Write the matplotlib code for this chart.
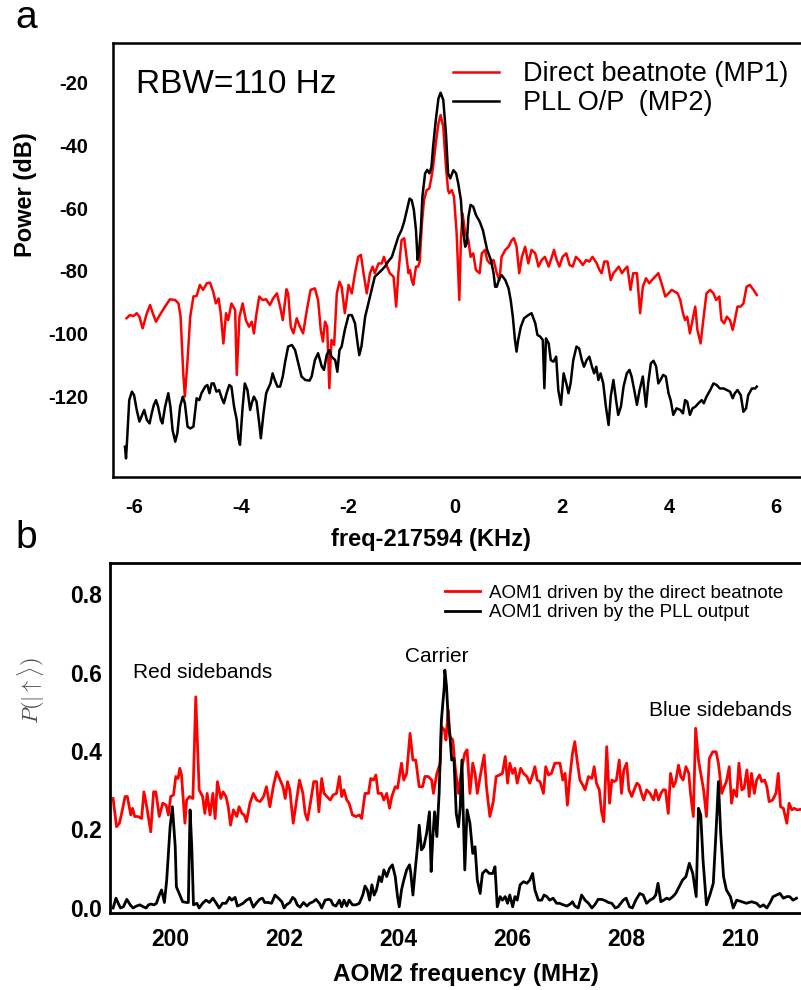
"""Beatnote spectra (a) and AOM2 frequency scan (b)."""

import matplotlib

matplotlib.use("Agg")
import matplotlib.pyplot as plt

plt.rcParams["font.family"] = ["Liberation Sans", "DejaVu Sans"]
plt.rcParams["mathtext.fontset"] = "cm"
plt.rcParams["axes.unicode_minus"] = False

# ---- panel a: spectrum analyser traces ----
red_khz = [
    -6.14, -6.08, -6.01, -5.95, -5.90, -5.84, -5.76, -5.70, -5.65, -5.59,
    -5.52, -5.42, -5.33, -5.23, -5.17, -5.13, -5.08, -5.05, -5.00, -4.95,
    -4.89, -4.83, -4.77, -4.71, -4.64, -4.58, -4.52, -4.47, -4.42, -4.38,
    -4.33, -4.28, -4.24, -4.18, -4.11, -4.08, -4.03, -3.97, -3.91, -3.85,
    -3.80, -3.76, -3.71, -3.66, -3.60, -3.53, -3.46, -3.40, -3.33, -3.27,
    -3.22, -3.15, -3.12, -3.07, -3.02, -2.96, -2.90, -2.84, -2.77, -2.70,
    -2.62, -2.56, -2.51, -2.47, -2.43, -2.39, -2.35, -2.31, -2.26, -2.21,
    -2.16, -2.12, -2.06, -1.99, -1.93, -1.87, -1.81, -1.76, -1.71, -1.65,
    -1.59, -1.54, -1.50, -1.43, -1.37, -1.33, -1.27, -1.22, -1.15, -1.10,
    -1.06, -1.00, -0.95, -0.90, -0.87, -0.84, -0.81, -0.78, -0.73, -0.69,
    -0.66, -0.62, -0.58, -0.53, -0.48, -0.44, -0.41, -0.36, -0.31, -0.27,
    -0.22, -0.17, -0.13,
    -0.11, -0.06, -0.02, 0.03, 0.06, 0.08, 0.11, 0.14, 0.19, 0.25,
    0.29, 0.34, 0.39, 0.46, 0.50, 0.56, 0.60, 0.65, 0.72, 0.78,
    0.83, 0.87, 0.94, 1.00, 1.06, 1.10, 1.15, 1.20, 1.25, 1.31,
    1.37, 1.43, 1.50, 1.56, 1.62, 1.68, 1.75, 1.81, 1.85, 1.90,
    1.95, 2.01, 2.08, 2.14, 2.20, 2.26, 2.32, 2.39, 2.45, 2.51,
    2.57, 2.65, 2.70, 2.74, 2.79, 2.85, 2.91, 2.96, 3.01, 3.06,
    3.12, 3.16, 3.22, 3.28, 3.33, 3.40, 3.46, 3.51, 3.57, 3.63,
    3.68, 3.74, 3.80, 3.86, 3.93, 3.99, 4.05, 4.11, 4.16, 4.21,
    4.26, 4.30, 4.34, 4.39, 4.44, 4.49, 4.53, 4.59, 4.64, 4.70,
    4.77, 4.83, 4.88, 4.94, 4.98, 5.03, 5.08, 5.14, 5.19, 5.23,
    5.28, 5.34, 5.39, 5.45, 5.51, 5.58, 5.64,
]
red_db = [
    -95.0, -94.0, -94.3, -93.4, -94.5, -98.2, -93.4, -90.8, -93.4, -96.1,
    -94.0, -91.3, -89.0, -89.2, -90.3, -94.5, -112.5, -119.9, -108.3, -94.5,
    -88.1, -87.9, -84.4, -86.0, -83.9, -83.7, -86.6, -90.3, -88.7, -93.4,
    -103.0, -93.4, -95.6, -90.3, -92.4, -113.0, -94.5, -90.3, -95.6, -97.7,
    -96.1, -99.8, -93.4, -88.1, -89.2, -89.0, -90.8, -88.7, -87.1, -91.3,
    -95.6, -85.8, -87.1, -97.7, -99.8, -95.0, -97.7, -99.8, -92.4, -86.0,
    -85.5, -89.2, -98.7, -102.4, -96.1, -97.7, -117.2, -101.9, -103.5, -87.1,
    -83.4, -85.0, -93.4, -84.4, -87.1, -80.7, -75.5, -74.9, -80.7, -87.1,
    -80.7, -78.6, -80.7, -77.6, -77.6, -75.5, -78.6, -80.7, -81.8, -91.3,
    -80.7, -70.2, -69.6, -76.5, -80.7, -79.7, -82.9, -84.4, -78.6, -78.6,
    -77.0, -64.9, -57.5, -54.3, -53.8, -50.1, -46.9, -39.5, -33.1, -30.5,
    -34.2, -46.9, -54.3,
    -55.3, -54.3, -56.4, -68.0, -80.7, -89.2, -70.2, -61.7, -68.0, -70.2,
    -75.5, -74.4, -79.7, -80.7, -74.4, -73.3, -76.5, -77.6, -76.5, -80.7,
    -82.9, -75.5, -73.3, -72.3, -70.2, -69.6, -72.3, -80.7, -75.5, -72.3,
    -77.6, -73.3, -74.4, -78.6, -76.5, -75.5, -78.6, -75.5, -73.3, -76.5,
    -78.6, -75.5, -74.4, -78.1, -78.6, -75.5, -76.5, -78.1, -76.5, -77.0,
    -75.5, -77.6, -79.7, -80.7, -77.0, -77.0, -82.9, -80.7, -79.7, -78.6,
    -80.7, -79.7, -78.6, -86.0, -80.7, -80.7, -93.4, -85.0, -82.3, -83.9,
    -82.9, -81.8, -80.7, -83.9, -88.1, -87.1, -86.0, -86.6, -87.1, -89.2,
    -93.4, -95.6, -94.5, -99.8, -95.6, -91.3, -98.7, -103.0, -95.6, -87.1,
    -86.0, -87.1, -89.2, -88.1, -95.6, -96.6, -94.5, -95.6, -98.7, -95.6,
    -91.3, -91.3, -90.3, -85.0, -84.4, -86.0, -87.6,
]

pll_khz = [
    -6.17, -6.15, -6.13, -6.09, -6.04, -6.00, -5.95, -5.90, -5.86, -5.81,
    -5.76, -5.71, -5.67, -5.63, -5.59, -5.55, -5.50, -5.47, -5.42, -5.36,
    -5.32, -5.28, -5.23, -5.19, -5.14, -5.09, -5.05, -5.00, -4.95, -4.89,
    -4.83, -4.78, -4.74, -4.67, -4.63, -4.59, -4.55, -4.51, -4.46, -4.41,
    -4.36, -4.32, -4.27, -4.22, -4.18, -4.13, -4.08, -4.05, -4.02, -3.97,
    -3.93, -3.88, -3.83, -3.80, -3.76, -3.71, -3.66, -3.63, -3.58, -3.53,
    -3.49, -3.45, -3.41, -3.37, -3.32, -3.27, -3.22, -3.18, -3.12, -3.05,
    -2.99, -2.93, -2.87, -2.80, -2.72, -2.68, -2.62, -2.56, -2.49, -2.45,
    -2.40, -2.35, -2.31, -2.24, -2.20, -2.16, -2.12, -2.06, -1.99, -1.93,
    -1.87, -1.83, -1.79, -1.75, -1.68, -1.62, -1.56, -1.50, -1.43, -1.37,
    -1.31, -1.25, -1.18, -1.12, -1.06, -1.00, -0.95, -0.90, -0.85, -0.81,
    -0.77, -0.73, -0.70, -0.67, -0.64, -0.61, -0.56, -0.52, -0.48, -0.44,
    -0.41, -0.36, -0.31, -0.27, -0.22, -0.17, -0.13,
    -0.09, -0.03, 0.02, 0.06, 0.11, 0.14, 0.19, 0.22, 0.25, 0.29,
    0.34, 0.39, 0.46, 0.52, 0.56, 0.60, 0.67, 0.72, 0.75, 0.78,
    0.83, 0.87, 0.94, 1.00, 1.04, 1.08, 1.12, 1.15, 1.18, 1.23,
    1.29, 1.37, 1.43, 1.50, 1.54, 1.59, 1.64, 1.67, 1.70, 1.75,
    1.79, 1.84, 1.89, 1.93, 1.98, 2.03, 2.08, 2.12, 2.16, 2.21,
    2.27, 2.32, 2.37, 2.41, 2.46, 2.51, 2.56, 2.60, 2.64, 2.68,
    2.72, 2.77, 2.82, 2.87, 2.91, 2.96, 3.01, 3.05, 3.10, 3.15,
    3.21, 3.26, 3.30, 3.35, 3.40, 3.45, 3.51, 3.57, 3.61, 3.66,
    3.71, 3.76, 3.80, 3.84, 3.89, 3.94, 3.99, 4.03, 4.08, 4.14,
    4.21, 4.26, 4.30, 4.34, 4.39, 4.44, 4.49, 4.55, 4.61, 4.65,
    4.70, 4.77, 4.83, 4.89, 4.95, 5.02, 5.08, 5.14, 5.19, 5.23,
    5.28, 5.34, 5.39, 5.44, 5.48, 5.55, 5.61, 5.64,
]
pll_db = [
    -135.8, -139.5, -133.7, -121.0, -118.3, -119.4, -124.1, -127.8, -126.2, -124.1,
    -127.3, -128.4, -125.2, -122.5, -121.0, -123.1, -127.3, -128.4, -123.1, -118.8,
    -123.1, -130.5, -134.2, -131.5, -123.1, -119.9, -122.0, -129.4, -130.0, -129.4,
    -120.4, -121.0, -118.8, -116.7, -116.2, -118.8, -115.7, -115.7, -118.3, -117.8,
    -120.4, -122.0, -118.8, -116.2, -116.7, -123.1, -127.3, -133.1, -135.2, -123.1,
    -115.7, -117.8, -124.1, -122.0, -119.9, -121.5, -128.4, -133.1, -125.2, -118.8,
    -117.2, -115.7, -112.5, -114.6, -116.7, -116.7, -113.5, -109.3, -104.0, -103.5,
    -105.1, -109.3, -113.5, -114.6, -114.8, -113.5, -108.3, -106.1, -110.4, -111.4,
    -106.7, -105.1, -107.2, -108.3, -112.0, -105.1, -104.0, -98.7, -94.0, -94.0,
    -96.6, -101.9, -106.7, -104.0, -94.5, -90.3, -86.0, -81.8, -80.7, -79.7,
    -78.6, -77.0, -75.5, -72.3, -69.1, -67.0, -64.3, -60.6, -57.0, -57.5,
    -60.6, -67.0, -76.5, -73.3, -67.0, -56.4, -49.0, -47.9, -49.0, -46.9,
    -40.5, -32.1, -25.2, -23.4, -25.7, -36.3, -49.0,
    -50.6, -48.0, -49.0, -52.2, -57.5, -65.9, -72.3, -71.2, -62.8, -59.0,
    -59.6, -62.2, -64.3, -67.0, -70.2, -73.3, -76.5, -80.7, -85.0, -85.0,
    -82.3, -81.3, -82.9, -85.5, -89.2, -94.5, -101.9, -105.6, -101.9, -97.7,
    -95.0, -94.0, -93.4, -96.6, -100.3, -100.8, -101.9, -117.2, -101.4, -103.0,
    -108.3, -108.8, -107.2, -117.8, -122.5, -112.5, -115.7, -118.8, -115.7, -108.3,
    -104.0, -104.6, -108.3, -110.4, -108.3, -107.2, -110.4, -112.5, -110.4, -114.6,
    -112.5, -115.7, -123.1, -128.9, -119.9, -114.6, -121.0, -125.7, -123.1, -116.7,
    -112.5, -111.4, -113.5, -117.8, -122.5, -117.8, -113.5, -123.1, -115.7, -109.3,
    -108.5, -110.4, -115.7, -114.6, -113.0, -113.5, -118.8, -121.0, -125.7, -123.6,
    -124.1, -125.2, -121.0, -121.5, -125.7, -123.6, -123.1, -122.0, -121.0, -122.0,
    -119.9, -117.8, -115.7, -116.2, -117.3, -117.3, -117.8, -118.3, -120.4, -118.8,
    -117.8, -119.4, -124.7, -123.6, -119.4, -117.3, -117.3, -116.7,
]

# ---- panel b: excitation probability vs AOM2 frequency ----
beat_mhz = [
    198.99, 199.05, 199.10, 199.14, 199.20, 199.24, 199.30, 199.33, 199.37, 199.43,
    199.49, 199.53, 199.58, 199.65, 199.70, 199.74, 199.80, 199.86, 199.92, 199.96,
    200.00, 200.05, 200.09, 200.13, 200.16, 200.19, 200.25, 200.28, 200.33, 200.39,
    200.44, 200.50, 200.56, 200.60, 200.64, 200.69, 200.74, 200.78, 200.82, 200.88,
    200.92, 200.97, 201.01, 201.05, 201.10, 201.16, 201.20, 201.25, 201.29, 201.33,
    201.39, 201.45, 201.51, 201.57, 201.63, 201.68, 201.74, 201.80, 201.86, 201.92,
    201.97, 202.01, 202.05, 202.09, 202.15, 202.21, 202.26, 202.32, 202.36, 202.40,
    202.46, 202.51, 202.56, 202.60, 202.65, 202.69, 202.74, 202.80, 202.85, 202.91,
    202.96, 203.00, 203.04, 203.09, 203.13, 203.19, 203.25, 203.31, 203.35, 203.41,
    203.47, 203.51, 203.56, 203.60, 203.64, 203.70, 203.74, 203.79, 203.84, 203.88,
    203.94, 203.98, 204.05, 204.09, 204.14, 204.20, 204.25, 204.30, 204.36, 204.42,
    204.46, 204.52, 204.58, 204.61, 204.67, 204.73,
    204.75, 204.80, 204.83, 204.87, 204.90, 204.95, 204.99, 205.05, 205.11, 205.16,
    205.20, 205.25, 205.30, 205.34, 205.38, 205.44, 205.50, 205.54, 205.60, 205.66,
    205.71, 205.77, 205.82, 205.87, 205.91, 205.95, 206.00, 206.04, 206.08, 206.14,
    206.19, 206.25, 206.30, 206.35, 206.39, 206.43, 206.48, 206.54, 206.58, 206.63,
    206.68, 206.74, 206.80,
    206.83, 206.88, 206.92, 206.96, 207.01, 207.05, 207.09, 207.13, 207.18, 207.23,
    207.27, 207.33, 207.39, 207.43, 207.47, 207.52, 207.56, 207.60, 207.65, 207.70,
    207.74, 207.78, 207.82, 207.87, 207.91, 207.95, 208.00, 208.04, 208.09, 208.13,
    208.18, 208.22, 208.26, 208.30, 208.35, 208.41, 208.47, 208.51, 208.56, 208.60,
    208.64, 208.68, 208.73, 208.77, 208.82, 208.86, 208.91, 208.95, 208.99, 209.04,
    209.09, 209.12, 209.17, 209.21, 209.26, 209.30, 209.35, 209.40, 209.45, 209.51,
    209.57, 209.61, 209.67, 209.71, 209.75, 209.80, 209.84, 209.88, 209.93, 209.97,
    210.02, 210.06, 210.11, 210.15, 210.19, 210.24, 210.28, 210.33, 210.37, 210.42,
    210.46, 210.50, 210.56, 210.62, 210.66, 210.70, 210.75, 210.81, 210.85, 210.90,
    210.94, 210.99, 211.04,
]
beat_prob = [
    0.279, 0.207, 0.216, 0.241, 0.284, 0.284, 0.237, 0.254, 0.233, 0.233,
    0.228, 0.296, 0.258, 0.194, 0.296, 0.296, 0.233, 0.267, 0.262, 0.237,
    0.284, 0.288, 0.335, 0.330, 0.356, 0.339, 0.216, 0.275, 0.284, 0.279,
    0.538, 0.301, 0.284, 0.241, 0.292, 0.237, 0.292, 0.228, 0.322, 0.279,
    0.296, 0.284, 0.258, 0.211, 0.250, 0.233, 0.258, 0.241, 0.237, 0.220,
    0.267, 0.292, 0.275, 0.271, 0.284, 0.309, 0.258, 0.309, 0.347, 0.326,
    0.309, 0.279, 0.322, 0.301, 0.216, 0.275, 0.326, 0.292, 0.241, 0.224,
    0.275, 0.322, 0.322, 0.245, 0.330, 0.292, 0.284, 0.275, 0.288, 0.292,
    0.335, 0.284, 0.301, 0.275, 0.267, 0.237, 0.233, 0.237, 0.228, 0.292,
    0.292, 0.330, 0.326, 0.339, 0.292, 0.292, 0.275, 0.292, 0.254, 0.284,
    0.309, 0.305, 0.369, 0.326, 0.343, 0.445, 0.377, 0.377, 0.309, 0.309,
    0.335, 0.335, 0.326, 0.292, 0.343, 0.369,
    0.462, 0.454, 0.428, 0.505, 0.437, 0.428, 0.360, 0.292, 0.360, 0.394,
    0.403, 0.292, 0.369, 0.343, 0.292, 0.343, 0.390, 0.309, 0.233, 0.271,
    0.335, 0.339, 0.343, 0.386, 0.318, 0.369, 0.343, 0.356, 0.318, 0.356,
    0.343, 0.335, 0.318, 0.339, 0.360, 0.326, 0.322, 0.292, 0.360, 0.339,
    0.343, 0.369, 0.369,
    0.369, 0.326, 0.343, 0.262, 0.343, 0.394, 0.424, 0.377, 0.326, 0.313,
    0.301, 0.335, 0.330, 0.360, 0.318, 0.301, 0.245, 0.220, 0.411, 0.267,
    0.326, 0.322, 0.326, 0.377, 0.292, 0.352, 0.369, 0.301, 0.284, 0.301,
    0.318, 0.313, 0.292, 0.275, 0.301, 0.292, 0.275, 0.301, 0.275, 0.292,
    0.301, 0.301, 0.241, 0.343, 0.309, 0.322, 0.364, 0.335, 0.326, 0.360,
    0.343, 0.292, 0.233, 0.458, 0.377, 0.343, 0.301, 0.233, 0.381, 0.398,
    0.398, 0.369, 0.292, 0.309, 0.322, 0.360, 0.267, 0.301, 0.284, 0.369,
    0.301, 0.305, 0.352, 0.284, 0.343, 0.292, 0.326, 0.339, 0.322, 0.326,
    0.309, 0.271, 0.275, 0.292, 0.343, 0.258, 0.254, 0.216, 0.267, 0.250,
    0.254, 0.250, 0.251,
]

pll_mhz = [
    198.99, 199.04, 199.08, 199.12, 199.17, 199.23, 199.29, 199.34, 199.40, 199.46,
    199.52, 199.57, 199.61, 199.65, 199.71, 199.75, 199.80, 199.84, 199.89, 199.93,
    199.99, 200.03, 200.08, 200.10, 200.16, 200.21, 200.28, 200.31, 200.34, 200.37,
    200.40, 200.46, 200.50, 200.56, 200.62, 200.68, 200.74, 200.80, 200.85, 200.91,
    200.97, 201.03, 201.07, 201.13, 201.17, 201.22, 201.27, 201.33, 201.39, 201.45,
    201.50, 201.56, 201.61, 201.65, 201.71, 201.77, 201.83, 201.89, 201.95, 201.99,
    202.03, 202.09, 202.14, 202.18, 202.22, 202.27, 202.33, 202.39, 202.44, 202.50,
    202.55, 202.61, 202.65, 202.71, 202.77, 202.81, 202.85, 202.90, 202.96, 203.00,
    203.04, 203.09, 203.13, 203.19, 203.25, 203.31, 203.37, 203.41, 203.45, 203.49,
    203.53, 203.57, 203.61, 203.66, 203.70, 203.74, 203.79, 203.84, 203.89, 203.94,
    203.98, 204.01, 204.05, 204.09, 204.14, 204.19, 204.21, 204.25, 204.29, 204.33,
    204.36, 204.40, 204.44, 204.49, 204.54, 204.57, 204.60, 204.63, 204.67,
    204.71, 204.75, 204.80, 204.81, 204.84, 204.87, 204.90, 204.93, 204.97, 205.01,
    205.05, 205.08, 205.11, 205.13, 205.16, 205.20, 205.25, 205.30, 205.34, 205.38,
    205.43, 205.47, 205.53, 205.59, 205.65, 205.69, 205.73, 205.78, 205.82, 205.87,
    205.91, 205.95, 206.00, 206.04, 206.08, 206.13, 206.19, 206.25, 206.30, 206.35,
    206.39, 206.45, 206.51, 206.55, 206.60, 206.65, 206.71, 206.77, 206.82,
    206.89, 206.95, 207.01, 207.05, 207.09, 207.15, 207.21, 207.27, 207.33,
    207.39, 207.44, 207.50, 207.56, 207.62, 207.68, 207.74, 207.80, 207.85,
    207.94, 207.99, 208.05, 208.10, 208.16, 208.23, 208.29, 208.35, 208.41, 208.47,
    208.51, 208.55, 208.60, 208.65, 208.70, 208.75, 208.81, 208.86, 208.92, 208.98,
    209.04, 209.10, 209.16, 209.22, 209.26, 209.30, 209.34, 209.40, 209.46, 209.52,
    209.57, 209.61, 209.65, 209.70, 209.75, 209.82, 209.87, 209.93, 210.02, 210.10,
    210.19, 210.28, 210.34, 210.40, 210.46, 210.51, 210.57, 210.63, 210.69, 210.75,
    210.81, 210.86, 210.92, 210.98,
]
pll_prob = [
    0.000, 0.025, 0.012, 0.000, 0.003, 0.022, 0.008, 0.000, 0.005, 0.008,
    0.003, 0.000, 0.008, 0.010, 0.008, 0.012, 0.033, 0.046, 0.014, 0.071,
    0.207, 0.258, 0.156, 0.054, 0.033, 0.016, 0.014, 0.014, 0.250, 0.156,
    0.008, 0.012, 0.000, 0.012, 0.020, 0.014, 0.025, 0.012, 0.000, 0.012,
    0.012, 0.027, 0.020, 0.027, 0.005, 0.008, 0.012, 0.020, 0.025, 0.002,
    0.012, 0.022, 0.025, 0.014, 0.014, 0.012, 0.033, 0.025, 0.016, 0.000,
    0.008, 0.014, 0.027, 0.022, 0.008, 0.002, 0.014, 0.005, 0.012, 0.016,
    0.022, 0.012, 0.000, 0.020, 0.022, 0.020, 0.008, 0.005, 0.020, 0.003,
    0.020, 0.005, 0.020, 0.008, 0.008, 0.012, 0.033, 0.056, 0.046, 0.020,
    0.059, 0.033, 0.046, 0.080, 0.067, 0.097, 0.080, 0.101, 0.110, 0.080,
    0.029, 0.003, 0.046, 0.071, 0.097, 0.110, 0.093, 0.033, 0.097, 0.156,
    0.211, 0.148, 0.156, 0.190, 0.245, 0.093, 0.182, 0.245, 0.182,
    0.292, 0.479, 0.564, 0.606, 0.564, 0.479, 0.437, 0.377, 0.381, 0.241,
    0.207, 0.258, 0.377, 0.258, 0.097, 0.250, 0.216, 0.139, 0.156, 0.071,
    0.037, 0.088, 0.097, 0.088, 0.088, 0.105, 0.003, 0.029, 0.020, 0.029,
    0.012, 0.033, 0.003, 0.029, 0.020, 0.059, 0.067, 0.063, 0.071, 0.088,
    0.046, 0.020, 0.020, 0.033, 0.029, 0.020, 0.025, 0.012, 0.012,
    0.008, 0.005, 0.010, 0.016, 0.005, 0.000, 0.033, 0.020, 0.012,
    0.000, 0.008, 0.022, 0.022, 0.019, 0.014, 0.012, 0.000, 0.003,
    0.020, 0.025, 0.003, 0.000, 0.020, 0.037, 0.033, 0.012, 0.020, 0.025,
    0.033, 0.063, 0.016, 0.020, 0.025, 0.022, 0.029, 0.037, 0.054, 0.071,
    0.080, 0.114, 0.088, 0.029, 0.254, 0.237, 0.122, 0.008, 0.033, 0.063,
    0.199, 0.322, 0.190, 0.080, 0.046, 0.029, 0.000, 0.020, 0.016, 0.012,
    0.016, 0.012, 0.003, 0.008, 0.000, 0.012, 0.029, 0.033, 0.037, 0.025,
    0.029, 0.029, 0.020, 0.025,
]

power_xticks = [-6, -4, -2, 0, 2, 4, 6]
power_yticks = [-20, -40, -60, -80, -100, -120]
aom_xticks = [200, 202, 204, 206, 208, 210]
prob_yticks = [0.0, 0.2, 0.4, 0.6, 0.8]

peak_names = ["Red sidebands", "Carrier", "Blue sidebands"]
peak_mhz = [200.56, 204.67, 209.65]
peak_prob = [0.599, 0.640, 0.504]


def bold_ticks(ax):
    for lbl in ax.get_xticklabels() + ax.get_yticklabels():
        lbl.set_fontweight("bold")


fig = plt.figure(figsize=(8.01, 9.90), dpi=100)

# panel a
ax_a = fig.add_axes([0.1411, 0.5182, 0.8652, 0.4384])
ax_a.plot(red_khz, red_db, color="red", lw=1.8, label="Direct beatnote (MP1)")
ax_a.plot(pll_khz, pll_db, color="black", lw=1.8, label="PLL O/P  (MP2)")
ax_a.set_xlim(-6.393, 6.561)
ax_a.set_ylim(-145.4, -7.6)
ax_a.set_xticks(power_xticks)
ax_a.set_yticks(power_yticks)
ax_a.tick_params(axis="x", length=0, pad=15, labelsize=14.5)
ax_a.tick_params(axis="y", length=0, pad=18, labelsize=14.5)
bold_ticks(ax_a)
for sp in ax_a.spines.values():
    sp.set_linewidth(1.8)
ax_a.set_ylabel("Power (dB)", fontsize=17, fontweight="bold")
ax_a.yaxis.set_label_coords(-0.110, 0.65)
ax_a.set_xlabel("freq-217594 (KHz)", fontsize=17, fontweight="bold")
ax_a.xaxis.set_label_coords(0.459, -0.1175)
ax_a.text(0.033, 0.885, "RBW=110 Hz", transform=ax_a.transAxes,
          fontsize=24, va="baseline", ha="left")
ax_a.legend(loc="upper left", bbox_to_anchor=(0.4906, 0.958), frameon=False,
            fontsize=19.5, handlelength=1.7, handletextpad=0.9,
            labelspacing=0.12, borderpad=0, borderaxespad=0)

# panel b
ax_b = fig.add_axes([0.1373, 0.0778, 0.8689, 0.3535])
ax_b.plot(beat_mhz, beat_prob, color="red", lw=2.0,
          label="AOM1 driven by the direct beatnote")
ax_b.plot(pll_mhz, pll_prob, color="black", lw=2.0,
          label="AOM1 driven by the PLL output")
ax_b.set_xlim(198.935, 211.146)
ax_b.set_ylim(-0.0127, 0.879)
ax_b.set_xticks(aom_xticks)
ax_b.set_yticks(prob_yticks)
ax_b.tick_params(axis="x", length=0, pad=11, labelsize=16.5)
ax_b.tick_params(axis="y", length=0, pad=6, labelsize=16.5)
bold_ticks(ax_b)
for sp in ax_b.spines.values():
    sp.set_linewidth(2.0)
ax_b.set_xlabel("AOM2 frequency (MHz)", fontsize=17.5, fontweight="bold")
ax_b.xaxis.set_label_coords(0.5115, -0.143)
ax_b.set_ylabel(r"$P(|\uparrow\rangle)$", fontsize=16, color="0.3")
ax_b.yaxis.set_label_coords(-0.0905, 0.637)
for name, xm, pm in zip(peak_names, peak_mhz, peak_prob):
    ax_b.text(xm, pm, name, fontsize=15, ha="center", va="center")
ax_b.legend(loc="upper left", bbox_to_anchor=(0.4813, 0.938), frameon=False,
            fontsize=13.5, handlelength=1.87, handletextpad=0.48,
            labelspacing=0.12, borderpad=0, borderaxespad=0)

fig.text(0.019, 0.9717, "a", fontsize=28, va="baseline", ha="left")
fig.text(0.019, 0.4465, "b", fontsize=28, va="baseline", ha="left")

fig.savefig("out.png", dpi=100)
